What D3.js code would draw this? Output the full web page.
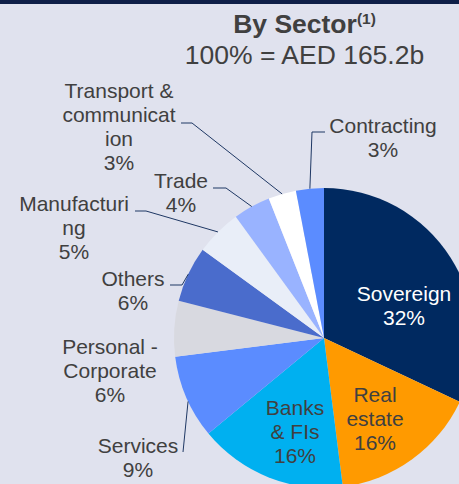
<!DOCTYPE html>
<html>
<head>
<meta charset="utf-8">
<script src="https://cdn.jsdelivr.net/npm/d3@7"></script>
<style>
    body { margin: 0; background: #e0e2ee; }
    svg { display: block; font-family: "Liberation Sans", Arial, sans-serif; }
</style>
</head>
<body>
<div id="pieChart"></div>
<script>

// data (clockwise from 12 o'clock)
var sectors = ["Sovereign", "Real estate", "Banks & FIs", "Services", "Personal - Corporate",
    "Others", "Manufacturing", "Trade", "Transport & communication", "Contracting"];
var shares = [32, 16, 16, 9, 6, 6, 5, 4, 3, 3];
var shareLabels = ["32%", "16%", "16%", "9%", "6%", "6%", "5%", "4%", "3%", "3%"];
var titleText = "By Sector";
var subtitleText = "100% = AED 165.2b";

var width = 459;
var height = 484;
var radius = 150;
var cx = 324, cy = 338;

//slice colours
var colours = d3.scaleOrdinal()
    .domain(sectors)
    .range(["#002960", "#ff9a00", "#00b0f0", "#5b8cff", "#d8d9e0",
        "#4a6ccc", "#e9eef8", "#99b3ff", "#ffffff", "#5b8cff"]);

// label layout: wrapped lines, centre x, first baseline, leader start / elbow
var labelLayout = [
    { lines: ["Sovereign"], x: 404, y: 301, fill: "#ffffff" },
    { lines: ["Real", "estate"], x: 375, y: 402 },
    { lines: ["Banks", "& FIs"], x: 295, y: 415 },
    { lines: ["Services"], x: 138, y: 453, lead: [183, 452], t: 0.45 },
    { lines: ["Personal -", "Corporate"], x: 110, y: 354 },
    { lines: ["Others"], x: 133, y: 286, lead: [170, 285], elbow: 182 },
    { lines: ["Manufacturi", "ng"], x: 74, y: 211, lead: [135, 211], elbow: 146 },
    { lines: ["Trade"], x: 181, y: 188, lead: [213, 188], elbow: 226 },
    { lines: ["Transport &", "communicat", "ion"], x: 119, y: 98, lead: [181, 123], elbow: 192 },
    { lines: ["Contracting"], x: 383, y: 133, lead: [325, 132], elbow: 312 }
];
var lineHeight = 24;

var svg = d3.select("#pieChart").append("svg")
    .attr("width", width)
    .attr("height", height);

// dark strip along the top
svg.append("rect")
    .attr("width", width)
    .attr("height", 4)
    .attr("fill", "#0f1f48");

//title
var title = svg.append("text")
    .attr("x", 304.5)
    .attr("y", 32.5)
    .attr("text-anchor", "middle")
    .attr("fill", "#404040")
    .attr("font-size", 26.5)
    .attr("font-weight", "bold")
    .text(titleText);
title.append("tspan")
    .attr("dy", -9)
    .attr("font-size", 15.5)
    .text("(1)");

svg.append("text")
    .attr("x", 304.5)
    .attr("y", 64)
    .attr("text-anchor", "middle")
    .attr("fill", "#404040")
    .attr("font-size", 26.5)
    .text(subtitleText);

//putting the data into slices
var sliceMaker = d3.pie()
    .sort(null)
    .value(function (d) { return d; });
var slices = sliceMaker(shares);

var path = d3.arc()
    .outerRadius(radius)
    .innerRadius(0);

var pieChart = svg.append("g")
    .attr("transform", "translate(" + cx + "," + cy + ")");

pieChart.selectAll("path.slice")
    .data(slices)
    .enter()
    .append("path")
    .attr("class", "slice")
    .attr("d", path)
    .attr("fill", function (d, i) { return colours(sectors[i]); });

// leader lines from the outside labels to the rim
var rim = d3.arc().innerRadius(radius).outerRadius(radius);
svg.append("g").selectAll("path")
    .data(slices.filter(function (d, i) { return labelLayout[i].lead; }))
    .enter()
    .append("path")
    .attr("fill", "none")
    .attr("stroke", "#1f3864")
    .attr("stroke-width", 1)
    .attr("d", function (d) {
        var lay = labelLayout[d.index];
        var t = lay.t === undefined ? 0.5 : lay.t;
        var a = d.startAngle + (d.endAngle - d.startAngle) * t;
        var end = rim.centroid({ startAngle: a, endAngle: a });
        var pts = [lay.lead];
        if (lay.elbow !== undefined) pts.push([lay.elbow, lay.lead[1]]);
        pts.push([cx + end[0], cy + end[1]]);
        return d3.line()(pts);
    });

//adding the labels
var labels = svg.append("g").selectAll("text")
    .data(slices)
    .enter()
    .append("text")
    .attr("text-anchor", "middle")
    .attr("font-size", 21)
    .attr("fill", function (d) { return labelLayout[d.index].fill || "#404040"; });

labels.each(function (d) {
    var lay = labelLayout[d.index];
    var lines = lay.lines.concat([shareLabels[d.index]]);
    d3.select(this).selectAll("tspan")
        .data(lines)
        .enter()
        .append("tspan")
        .attr("x", lay.x)
        .attr("y", function (l, j) { return lay.y + j * lineHeight; })
        .text(function (l) { return l; });
});

</script>
</body>
</html>
